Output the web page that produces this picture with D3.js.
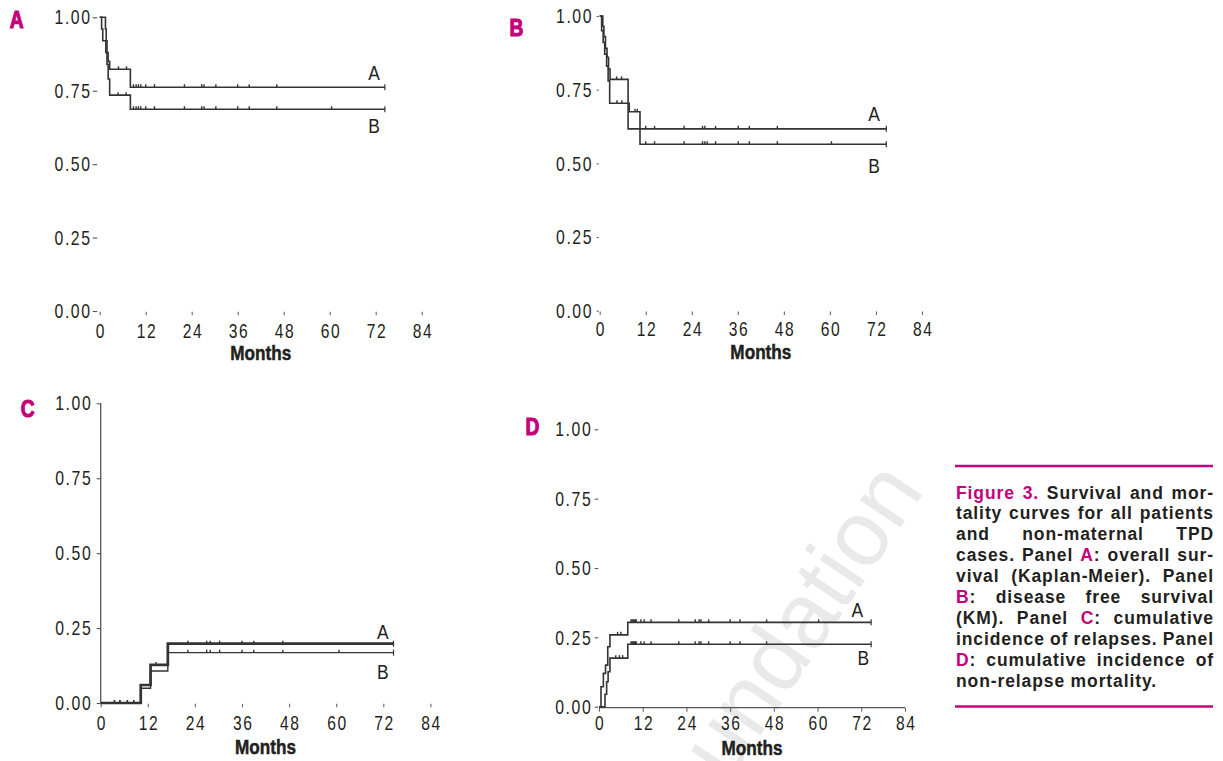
<!DOCTYPE html>
<html>
<head>
<meta charset="utf-8">
<script src="https://cdn.jsdelivr.net/npm/d3@7"></script>
<style>
  html, body { margin: 0; padding: 0; background: #fff; }
  svg { display: block; }
</style>
</head>
<body>
<svg id="chart" width="1223" height="761"></svg>
<script>
// ---------------- DATA ----------------
const monthTicks = [0, 12, 24, 36, 48, 60, 72, 84];
const yTicks = [0, 0.25, 0.5, 0.75, 1.0];
const seriesNames = ["A", "B"];

// Panel A: overall survival (Kaplan-Meier)
const osTimesA = [0, 1.5, 1.7, 1.9, 2.2, 2.6, 8.0];
const osValuesA = [1.00, 0.96, 0.92, 0.88, 0.85, 0.823, 0.762];
const osTimesB = [0, 0.5, 0.8, 1.6, 1.9, 2.2, 2.6, 8.0];
const osValuesB = [1.00, 0.96, 0.92, 0.88, 0.84, 0.79, 0.735, 0.687];
const osEnd = 74.4;
const osCensorA = [4.9, 7.0, 8.8, 9.5, 10.1, 10.7, 12.0, 14.3, 22.1, 26.6, 27.2, 30.3, 36.0, 39.0, 46.2];
const osCensorB = [4.8, 6.9, 8.8, 9.5, 10.1, 10.7, 12.0, 14.3, 22.1, 26.6, 27.2, 30.3, 36.0, 39.0, 46.2, 60.5];

// Panel B: disease free survival (KM)
const dfsTimesA = [0, 0.8, 1.1, 1.5, 1.9, 2.3, 2.7, 7.4];
const dfsValuesA = [1.00, 0.965, 0.93, 0.89, 0.86, 0.82, 0.785, 0.617];
const dfsTimesB = [0, 0.5, 0.9, 1.3, 1.8, 2.2, 2.6, 7.7, 10.5];
const dfsValuesB = [1.00, 0.95, 0.91, 0.87, 0.83, 0.78, 0.704, 0.675, 0.565];
const dfsEnd = 74.7;
const dfsCensorA = [4.4, 5.7, 12.0, 14.3, 22.0, 26.8, 27.4, 30.2, 36.1, 39.0, 46.3];
const dfsCensorB = [4.5, 5.8, 9.2, 9.8, 12.0, 14.3, 22.0, 26.8, 27.4, 28.0, 30.2, 36.1, 39.0, 46.3, 60.4];

// Panel C: cumulative incidence of relapses
const relTimesA = [0, 10.2, 12.7, 17.1];
const relValuesA = [0, 0.060, 0.127, 0.198];
const relTimesB = [0, 10.2, 12.7, 17.1];
const relValuesB = [0, 0.049, 0.107, 0.168];
const relEnd = 74.6;
const relCensorA = [3.5, 4.9, 6.8, 8.4, 14.1, 22.2, 27.0, 27.9, 30.3, 36.0, 39.0, 46.4];
const relCensorB = [3.5, 4.9, 6.8, 8.4, 22.2, 27.0, 27.9, 30.3, 36.0, 39.0, 46.4, 60.7];

// Panel D: cumulative incidence of non-relapse mortality
const nrmTimesA = [0, 0.55, 1.2, 1.8, 2.4, 3.0, 7.9];
const nrmValuesA = [0, 0.072, 0.12, 0.15, 0.216, 0.259, 0.304];
const nrmTimesB = [0, 1.65, 2.1, 2.5, 3.0, 7.9];
const nrmValuesB = [0, 0.045, 0.09, 0.126, 0.175, 0.225];
const nrmEnd = 74.7;
const nrmCensorA = [5.1, 6.0, 8.8, 9.1, 9.4, 9.7, 10.0, 10.2, 11.5, 12.4, 14.3, 21.9, 26.4, 27.5, 28.0, 30.1, 36.0, 38.7, 46.0, 60.3];
const nrmCensorB = [4.6, 5.6, 6.5, 8.8, 9.1, 9.4, 9.7, 10.0, 10.2, 11.5, 12.4, 14.3, 21.9, 26.4, 27.5, 28.0, 30.1, 36.0, 38.7, 46.0];

const xAxisTitle = "Months";
const captionLines = [
  "{Figure} {3.} Survival and mor-",
  "tality curves for all patients",
  "and non-maternal TPD",
  "cases. Panel {A}: overall sur-",
  "vival (Kaplan-Meier). Panel",
  "{B}: disease free survival",
  "(KM). Panel {C}: cumulative",
  "incidence of relapses. Panel",
  "{D}: cumulative incidence of",
  "non-relapse mortality."
];
const watermarkText = "Foundation";

// ---------------- STYLE / LAYOUT ----------------
const PINK = "#c4007a";
const INK = "#231f20";
const LINE = "#333";
const FONT = "'Liberation Sans', Arial, sans-serif";

const svg = d3.select("#chart");

// condensed text helper (horizontal squeeze)
function ctext(g, x, y, str, o) {
  const sx = o.sx || 0.8, ls = o.ls || 0;
  const t = g.append("text")
    .attr("transform", `translate(${x},${y}) scale(${sx},1)`)
    .attr("text-anchor", o.anchor || "middle")
    .attr("dominant-baseline", "central")
    .attr("font-family", FONT)
    .attr("font-size", o.size || 19.5)
    .attr("font-weight", o.weight || "normal")
    .attr("fill", o.fill || INK)
    .text(str);
  if (ls) t.attr("letter-spacing", ls + "px");
  return t;
}

// watermark (under everything)
svg.append("text")
  .attr("transform", "translate(668,872) rotate(-56)")
  .attr("font-family", FONT)
  .attr("font-size", 92)
  .attr("fill", "#e9e9e9")
  .text(watermarkText);

const panels = [
  { letter: "A", letterX: 16.7, letterY: 19.7, xr: [99.7, 421.7], yr: [311, 17.3],
    yAxisLine: false, xAxisLine: false, yTickLen: 4.5, yTickGap: 2.5, labRight: 90,
    sA: [osTimesA, osValuesA], sB: [osTimesB, osValuesB], end: osEnd,
    cA: osCensorA, cB: osCensorB, wA: 1.6, wB: 1.6,
    labA: [374, 73], labB: [374, 126], tickLabY: 331, titleY: 353.5 },
  { letter: "B", letterX: 516.5, letterY: 27.5, xr: [599.7, 922], yr: [310.7, 16],
    yAxisLine: false, xAxisLine: false, yTickLen: 2, yTickGap: 1, labRight: 591.5,
    sA: [dfsTimesA, dfsValuesA], sB: [dfsTimesB, dfsValuesB], end: dfsEnd,
    cA: dfsCensorA, cB: dfsCensorB, wA: 1.6, wB: 1.6,
    labA: [874, 114], labB: [874, 166], tickLabY: 329.5, titleY: 352 },
  { letter: "C", letterX: 27.8, letterY: 408.3, xr: [100.7, 430.4], yr: [703, 403.3],
    yAxisLine: true, xAxisLine: false, yTickLen: 4, yTickGap: 0, labRight: 90.7,
    sA: [relTimesA, relValuesA], sB: [relTimesB, relValuesB], end: relEnd,
    cA: relCensorA, cB: relCensorB, wA: 2.7, wB: 1.4,
    labA: [382.7, 632], labB: [382.7, 672], tickLabY: 723, titleY: 747 },
  { letter: "D", letterX: 532.5, letterY: 426.7, xr: [599, 905], yr: [706.7, 429.3],
    yAxisLine: false, xAxisLine: true, yTickLen: 3.5, yTickGap: 0.8, labRight: 590.7,
    sA: [nrmTimesA, nrmValuesA], sB: [nrmTimesB, nrmValuesB], end: nrmEnd,
    cA: nrmCensorA, cB: nrmCensorB, wA: 1.6, wB: 1.6,
    labA: [857.3, 610], labB: [863.3, 658], tickLabY: 723, titleY: 748 }
];

panels.forEach(p => {
  const g = svg.append("g");
  const x = d3.scaleLinear().domain([0, 84]).range(p.xr);
  const y = d3.scaleLinear().domain([0, 1]).range(p.yr);
  const x0 = x(0);

  // panel letter (heavy condensed magenta)
  ctext(g, p.letterX, p.letterY, p.letter, { size: 24, sx: 0.8, weight: "bold", fill: PINK })
    .attr("stroke", PINK).attr("stroke-width", 1.1).attr("stroke-linejoin", "round");

  // y axis ticks
  const yAxis = d3.axisLeft(y).tickValues(yTicks).tickFormat("").tickSize(p.yTickLen);
  const ya = g.append("g").attr("transform", `translate(${x0 - p.yTickGap},0)`).call(yAxis);
  ya.select(".domain").remove();
  ya.selectAll(".tick line").attr("stroke", "#555").attr("stroke-width", 1.1);
  ya.selectAll(".tick text").remove();
  yTicks.forEach(v => {
    ctext(g, p.labRight, y(v) + 0.5, d3.format(".2f")(v), { size: 20, sx: 0.79, ls: 2, anchor: "end" })
      .attr("transform", `translate(${p.labRight + 1.6},${y(v) + 0.5}) scale(0.79,1)`);
  });
  if (p.yAxisLine) {
    g.append("line").attr("x1", x0).attr("x2", x0)
      .attr("y1", y(0)).attr("y2", y(1))
      .attr("stroke", "#555").attr("stroke-width", 1.3);
  }

  // x axis ticks
  const xAxis = d3.axisBottom(x).tickValues(monthTicks).tickFormat("")
    .tickSize(p.xAxisLine ? 4 : 3.5);
  const xa = g.append("g").attr("transform", `translate(0,${y(0) + (p.xAxisLine ? 1 : 0.8)})`).call(xAxis);
  if (!p.xAxisLine) xa.select(".domain").remove();
  else xa.select(".domain").attr("stroke", "#555").attr("stroke-width", 1.3).attr("d", `M${x(0)},0H${x(84)}`);
  xa.selectAll(".tick line").attr("stroke", "#666").attr("stroke-width", 1.1);
  xa.selectAll(".tick text").remove();
  monthTicks.forEach(m => {
    ctext(g, x(m) + 1.2, p.tickLabY, String(m), { size: 19.5, sx: 0.8, ls: 2 });
  });

  ctext(g, (x(0) + x(84)) / 2, p.titleY, xAxisTitle, { size: 19.5, sx: 0.88, weight: "bold" })
    .attr("stroke", INK).attr("stroke-width", 0.5);

  // curves
  const line = d3.line().x(d => x(d[0])).y(d => y(d[1])).curve(d3.curveStepAfter);
  const series = [
    { name: seriesNames[0], t: p.sA[0], v: p.sA[1], c: p.cA, w: p.wA, lab: p.labA },
    { name: seriesNames[1], t: p.sB[0], v: p.sB[1], c: p.cB, w: p.wB, lab: p.labB }
  ];
  series.forEach(s => {
    const pts = s.t.map((t, i) => [t, s.v[i]]);
    pts.push([p.end, s.v[s.v.length - 1]]);
    g.append("path").attr("d", line(pts))
      .attr("fill", "none").attr("stroke", LINE).attr("stroke-width", s.w)
      .attr("stroke-linejoin", "miter");
    const valAt = tm => { let val = s.v[0]; s.t.forEach((tt, i) => { if (tt <= tm) val = s.v[i]; }); return val; };
    g.selectAll(null).data(s.c).join("line")
      .attr("x1", d => x(d)).attr("x2", d => x(d))
      .attr("y1", d => y(valAt(d))).attr("y2", d => y(valAt(d)) - 3)
      .attr("stroke", LINE).attr("stroke-width", 1.4);
    const ev = s.v[s.v.length - 1];
    g.append("line").attr("x1", x(p.end)).attr("x2", x(p.end))
      .attr("y1", y(ev) - 3).attr("y2", y(ev) + 3)
      .attr("stroke", LINE).attr("stroke-width", 1.2);
    ctext(g, s.lab[0], s.lab[1], s.name, { size: 21, sx: 0.83 });
  });
});

// ---------------- CAPTION ----------------
const capX = 955, capW = 258;
svg.append("line").attr("x1", capX).attr("x2", capX + capW).attr("y1", 466).attr("y2", 466)
  .attr("stroke", PINK).attr("stroke-width", 2.6);
svg.append("line").attr("x1", capX).attr("x2", capX + capW).attr("y1", 706.5).attr("y2", 706.5)
  .attr("stroke", PINK).attr("stroke-width", 2.6);

const capG = svg.append("g")
  .attr("font-family", FONT)
  .attr("font-weight", "bold").attr("font-size", 17.5)
  .attr("letter-spacing", "0.9px");

function parseWord(w) {
  const segs = [];
  const re = /\{([^}]*)\}|([^{]+)/g;
  let m;
  while ((m = re.exec(w)) !== null) {
    if (m[1] !== undefined) segs.push([m[1], PINK]);
    else segs.push([m[2], INK]);
  }
  return segs;
}

captionLines.forEach((ln, li) => {
  const yy = 492.5 + li * 20.9;
  const words = ln.split(" ");
  const nodes = words.map(w => {
    const t = capG.append("text").attr("y", yy).attr("dominant-baseline", "central");
    parseWord(w).forEach(sg => t.append("tspan").attr("fill", sg[1]).text(sg[0]));
    return t;
  });
  const widths = nodes.map(n => n.node().getComputedTextLength());
  const total = d3.sum(widths);
  const last = li === captionLines.length - 1;
  let gap = last ? 5.5 : (capW - total) / (words.length - 1);
  let scale = 1;
  if (!last && gap < 3.5) { gap = 3.5; scale = (capW - 3.5 * (words.length - 1)) / total; }
  let cx = capX + 1;
  nodes.forEach((n, i) => {
    if (scale !== 1) n.attr("textLength", widths[i] * scale).attr("lengthAdjust", "spacingAndGlyphs");
    n.attr("x", cx);
    cx += widths[i] * scale + gap;
  });
});
</script>
</body>
</html>
